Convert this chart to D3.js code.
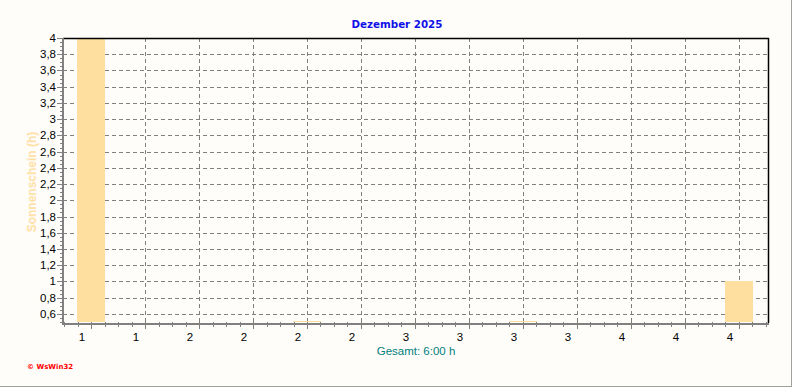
<!DOCTYPE html>
<html><head><meta charset="utf-8">
<script src="https://cdn.jsdelivr.net/npm/d3@7/dist/d3.min.js"></script>
<style>html,body{margin:0;padding:0;background:#fffdf9;}svg{display:block;}</style>
</head><body>
<script>
const title = "Dezember 2025";
const yLabel = "Sonnenschein (h)";
const totalText = "Gesamt: 6:00 h";
const slotLabels = ["1","1","2","2","2","2","3","3","3","3","4","4","4"];
const sunshine = [4.0, 0, 0, 0, 0.51, 0, 0, 0, 0.51, 0, 0, 0, 1.0];
const yTicks = [0.6,0.8,1,1.2,1.4,1.6,1.8,2,2.2,2.4,2.6,2.8,3,3.2,3.4,3.6,3.8,4];

const W = 792, H = 387;
const L = 63, R = 768, T = 38, B = 322;
const svg = d3.select("body").append("svg").attr("width", W).attr("height", H);
svg.append("rect").attr("width", W).attr("height", H).attr("fill", "#fffdf9");
// outer frame
svg.append("line").attr("x1", W-0.5).attr("x2", W-0.5).attr("y1", 0).attr("y2", H).attr("stroke", "#a0a0a0");
svg.append("line").attr("x1", 0).attr("x2", W).attr("y1", H-0.5).attr("y2", H-0.5).attr("stroke", "#a0a0a0");

const x = d3.scaleLinear().domain([-0.52, 12.54]).range([L, R]);
const y = d3.scaleLinear().domain([0.5, 4]).range([B, T]);
const idx = d3.range(slotLabels.length);

// grid
const grid = svg.append("g").attr("stroke", "#808080").attr("stroke-dasharray", "4,3").attr("shape-rendering", "crispEdges");
grid.selectAll(".hg").data(yTicks.filter(t => t < 4)).join("line")
  .attr("x1", L).attr("x2", R).attr("y1", d => Math.round(y(d)) + 0.5).attr("y2", d => Math.round(y(d)) + 0.5);
grid.selectAll(".vg").data(idx).join("line")
  .attr("x1", d => Math.round(x(d)) + 0.5).attr("x2", d => Math.round(x(d)) + 0.5).attr("y1", T).attr("y2", B);

// bars
const bw = x(0.25) - x(-0.25);
svg.append("g").selectAll("rect").data(idx.filter(i => sunshine[i] > 0.5)).join("rect")
  .attr("x", i => Math.floor(x(i) - bw / 2)).attr("width", Math.round(bw) + 1)
  .attr("y", i => Math.round(y(sunshine[i]))).attr("height", i => Math.max(1, Math.round(B - y(sunshine[i]))))
  .attr("fill", "#ffdf9f").attr("shape-rendering", "crispEdges");

// borders
svg.append("line").attr("x1", L).attr("x2", R + 1).attr("y1", T + 0.5).attr("y2", T + 0.5).attr("stroke", "#000").attr("stroke-width", 1.5);
svg.append("line").attr("x1", R + 0.5).attr("x2", R + 0.5).attr("y1", T).attr("y2", B + 1).attr("stroke", "#000").attr("stroke-width", 1.5);

// left axis
const gy = svg.append("g").attr("shape-rendering", "crispEdges");
const yMinor = d3.range(0.5, 4.001, 0.05);
gy.selectAll(".mn").data(yMinor).join("line")
  .attr("x1", L - 3).attr("x2", L).attr("y1", d => Math.round(y(d)) + 0.5).attr("y2", d => Math.round(y(d)) + 0.5)
  .attr("stroke", "#808080");
gy.selectAll(".mj").data(yTicks).join("line")
  .attr("x1", L - 6).attr("x2", L).attr("y1", d => Math.round(y(d)) + 0.5).attr("y2", d => Math.round(y(d)) + 0.5)
  .attr("stroke", "#808080");
gy.append("line").attr("x1", L - 0.5).attr("x2", L - 0.5).attr("y1", T).attr("y2", B + 2).attr("stroke", "#808080").attr("stroke-width", 2);
gy.selectAll("text").data(yTicks).join("text")
  .attr("x", 56).attr("y", d => y(d)).attr("dy", "0.35em").attr("text-anchor", "end")
  .attr("font-family", "Liberation Sans, Arial, sans-serif").attr("font-size", 11.5).attr("fill", "#000")
  .text(d => String(Math.round(d * 10) / 10).replace(".", ","));

// bottom axis
const gx = svg.append("g").attr("shape-rendering", "crispEdges");
const xMinor = d3.range(-0.5, 12.51, 0.25);
gx.selectAll(".mn").data(xMinor).join("line")
  .attr("x1", d => Math.round(x(d)) + 0.5).attr("x2", d => Math.round(x(d)) + 0.5).attr("y1", B).attr("y2", B + 5)
  .attr("stroke", "#808080");
gx.selectAll(".mj").data(idx).join("line")
  .attr("x1", d => Math.round(x(d)) + 0.5).attr("x2", d => Math.round(x(d)) + 0.5).attr("y1", B).attr("y2", B + 7)
  .attr("stroke", "#808080");
gx.append("line").attr("x1", L - 1).attr("x2", R + 1).attr("y1", B + 1.5).attr("y2", B + 1.5).attr("stroke", "#808080").attr("stroke-width", 2);
gx.selectAll("text").data(idx).join("text")
  .attr("x", d => x(d) - 9).attr("y", 337).attr("dy", "0.35em").attr("text-anchor", "middle")
  .attr("font-family", "Liberation Sans, Arial, sans-serif").attr("font-size", 11.5).attr("fill", "#000")
  .text(d => slotLabels[d]);

// title
svg.append("text").attr("x", 397).attr("y", 24).attr("dy", "0.35em").attr("text-anchor", "middle")
  .attr("font-family", "DejaVu Sans, Verdana, sans-serif").attr("font-weight", "bold").attr("font-size", 10.3)
  .attr("fill", "#1010e8").text(title);

// y label
svg.append("text").attr("transform", "translate(32,182) rotate(-90)").attr("dy", "0.35em").attr("text-anchor", "middle")
  .attr("font-family", "Liberation Sans, Arial, sans-serif").attr("font-weight", "bold").attr("font-size", 12)
  .attr("fill", "#ffe0a6").text(yLabel);

// total
svg.append("text").attr("x", 416).attr("y", 351).attr("dy", "0.35em").attr("text-anchor", "middle")
  .attr("font-family", "Liberation Sans, Arial, sans-serif").attr("font-size", 11.5)
  .attr("fill", "#008080").text(totalText);

// copyright
svg.append("text").attr("x", 27).attr("y", 367).attr("dy", "0.35em")
  .attr("font-family", "DejaVu Sans, Verdana, sans-serif").attr("font-weight", "bold").attr("font-size", 7)
  .attr("fill", "#ff0000").text("© WsWin32");
</script>
</body></html>
